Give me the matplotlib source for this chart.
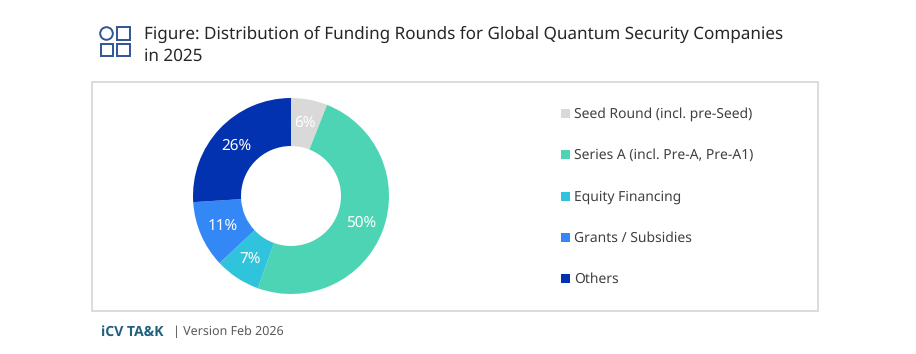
import numpy as np
import matplotlib
matplotlib.use('Agg')
import matplotlib.pyplot as plt
from matplotlib.patches import Rectangle, Circle

plt.rcParams['font.family'] = ['Noto Sans', 'DejaVu Sans']
plt.rcParams['text.hinting'] = 'no_hinting'
plt.rcParams['text.hinting_factor'] = 1

# Funding round shares in percent
categories = ['Seed Round (incl. pre-Seed)', 'Series A (incl. Pre-A, Pre-A1)',
              'Equity Financing', 'Grants / Subsidies', 'Others']
shares = [6, 49.5, 7.5, 11, 26]
share_labels = ['6%', '50%', '7%', '11%', '26%']
colors = ['#d9d9d9', '#4dd4b4', '#2fc3dc', '#3388f5', '#0332b0']
title = 'Figure: Distribution of Funding Rounds for Global Quantum Security Companies\nin 2025'

W, H = 916, 354
fig = plt.figure(figsize=(W / 100, H / 100), dpi=100)

# full figure overlay in pixel coordinates, y pointing down
bg = fig.add_axes([0, 0, 1, 1])
bg.set_xlim(0, W)
bg.set_ylim(H, 0)
bg.axis('off')

bg.add_patch(Rectangle((92, 82), 726, 229, fc='white', ec='#d9d9d9', lw=1.3))

# title icon
icon = '#2f5597'
bg.add_patch(Circle((106.5, 33.5), 6.3, fc='none', ec=icon, lw=1.4))
bg.add_patch(Rectangle((117, 27), 12.5, 13, fc='none', ec=icon, lw=1.4))
bg.add_patch(Rectangle((100.5, 44), 12.5, 12, fc='none', ec=icon, lw=1.4))
bg.add_patch(Rectangle((117, 44), 12.5, 12, fc='none', ec=icon, lw=1.4))

bg.text(144, 45, title, fontsize=12.3, color='#262626', va='center', ha='left',
        linespacing=1.36)

# footer
bg.text(101, 332, 'iCV TA&K', fontsize=10.4, color='#1f5f80', va='center', ha='left',
        family='Open Sans', fontweight='bold')
bg.text(173, 332, '| Version Feb 2026', fontsize=9.0, color='#595959', va='center', ha='left')

# donut, centre (291, 196) radius 98
ax = fig.add_axes([(291 - 98) / W, 1 - (196 + 98) / H, 196 / W, 196 / H])
wedges, _ = ax.pie(shares, colors=colors, startangle=90, counterclock=False, radius=1,
                   wedgeprops={'width': 0.49, 'edgecolor': 'none'})
ax.set_xlim(-1, 1)
ax.set_ylim(-1, 1)

theta = 90
for s, lab in zip(shares, share_labels):
    mid = np.deg2rad(theta - s * 3.6 / 2)
    theta -= s * 3.6
    ax.text(0.76 * np.cos(mid), 0.76 * np.sin(mid) - 0.005, lab, color='white', fontsize=11,
            ha='center', va='center')

# legend
legend_y = [113, 154, 196, 237, 278]
for name, col, y in zip(categories, colors, legend_y):
    bg.add_patch(Rectangle((561, y - 4.5), 9, 9, fc=col, ec='none'))
    bg.text(574, y + 1.2, name, fontsize=10, color='#404040', va='center', ha='left')

fig.savefig('out.png', dpi=100, facecolor='white')
